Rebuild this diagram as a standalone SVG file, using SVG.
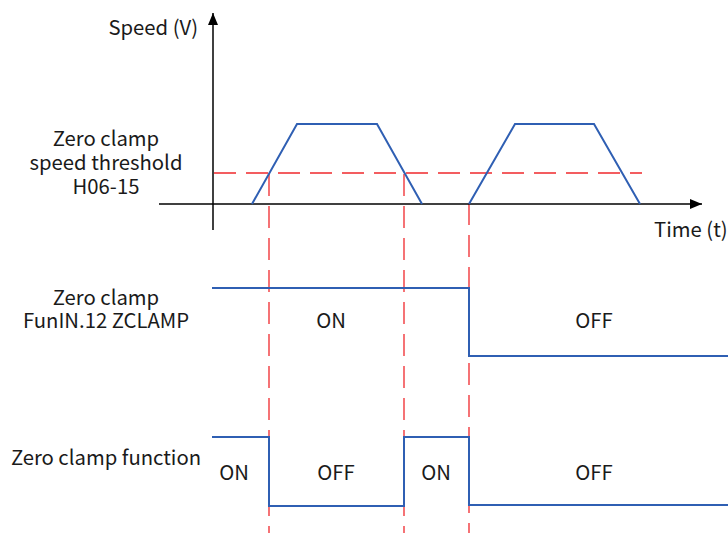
<svg xmlns="http://www.w3.org/2000/svg" width="728" height="534" viewBox="0 0 728 534">
<defs>
<marker id="arr" viewBox="0 0 12 10" refX="12" refY="5" markerWidth="12" markerHeight="10" markerUnits="userSpaceOnUse" orient="auto">
<path d="M0,0 L12,5 L0,10 Z" fill="#000"/>
</marker>
<style>
.t{font-family:"Noto Sans CJK SC","Noto Sans",sans-serif;font-size:20.3px;fill:#1a1a1a}
.m{text-anchor:middle}
.ax{stroke:#000;stroke-width:1.5;fill:none}
.sig{stroke:#2f5fb3;stroke-width:2;fill:none;stroke-linejoin:miter}
.dash{stroke:#f0282d;stroke-width:1.3;fill:none;stroke-dasharray:22 10}
</style>
</defs>
<rect width="728" height="534" fill="#fff"/>
<g id="connectors">
<line class="dash" x1="214" y1="173" x2="642" y2="173"/>
<line class="dash" x1="269" y1="174" x2="269" y2="533"/>
<line class="dash" x1="404" y1="174" x2="404" y2="533"/>
<line class="dash" x1="469" y1="203" x2="469" y2="533"/>
<line class="ax" x1="159" y1="204" x2="702" y2="204" marker-end="url(#arr)"/>
<line class="ax" x1="213" y1="230" x2="213" y2="13" marker-end="url(#arr)"/>
</g>
<g id="speed-curve">
<polyline class="sig" points="252,204 297,124 377,124 422,204"/>
<polyline class="sig" points="469,204 515,124 594,124 640,204"/>
</g>
<g id="funin-signal">
<polyline class="sig" points="212,288 469,288 469,356 728,356"/>
</g>
<g id="function-signal">
<polyline class="sig" points="212,437 269,437 269,506 404,506 404,437 469,437 469,505 728,505"/>
</g>
<g id="labels">
<text class="t" x="198" y="35" text-anchor="end">Speed (V)</text>
<text class="t m" x="106" y="146">Zero clamp</text>
<text class="t m" x="106" y="170">speed threshold</text>
<text class="t m" x="106" y="194">H06-15</text>
<text class="t" x="654" y="237">Time (t)</text>
<text class="t m" x="106" y="305">Zero clamp</text>
<text class="t m" x="106" y="328">FunIN.12 ZCLAMP</text>
<text class="t m" x="106" y="465">Zero clamp function</text>
<text class="t m" x="331" y="328">ON</text>
<text class="t m" x="594" y="328">OFF</text>
<text class="t m" x="234" y="480">ON</text>
<text class="t m" x="336" y="480">OFF</text>
<text class="t m" x="436" y="480">ON</text>
<text class="t m" x="594" y="480">OFF</text>
</g>
</svg>
